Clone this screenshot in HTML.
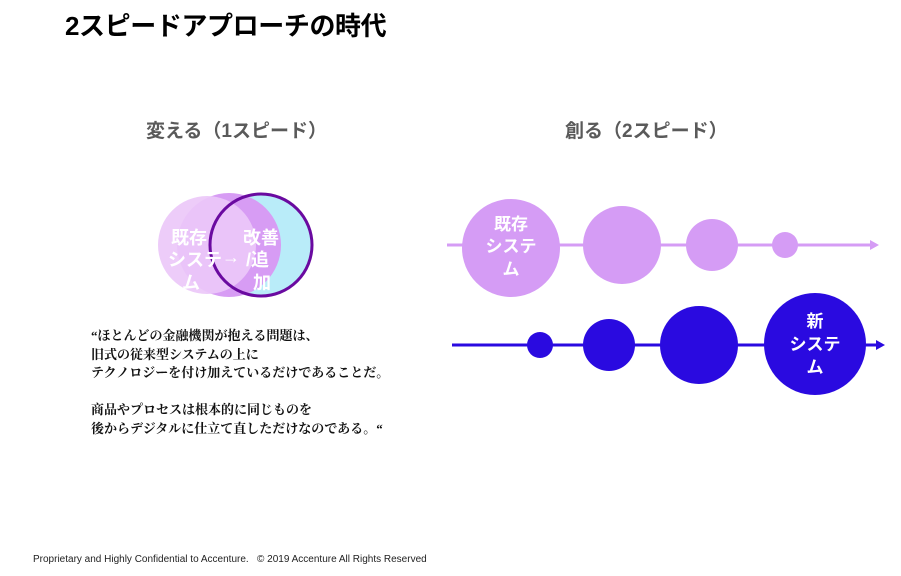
<!DOCTYPE html>
<html><head><meta charset="utf-8"><style>
body{margin:0;width:901px;height:576px;background:#fff;position:relative;overflow:hidden;font-family:"Liberation Sans","Noto Sans CJK JP",sans-serif}
.t{position:absolute;white-space:nowrap}
</style></head><body>
<div class="t" style="left:65px;top:6px;font-size:26px;font-weight:bold;color:#000;letter-spacing:-0.4px">2スピードアプローチの時代</div>
<div class="t" style="left:146px;top:116px;font-size:19px;font-weight:bold;color:#5a5a5a">変える（1スピード）</div>
<div class="t" style="left:565px;top:116px;font-size:19px;font-weight:bold;color:#5a5a5a">創る（2スピード）</div>
<svg width="901" height="576" style="position:absolute;left:0;top:0">
<circle cx="261" cy="245" r="52" fill="#b9ecf9"/>
<circle cx="229" cy="245" r="52" fill="#d79cf4"/>
<circle cx="207" cy="245" r="49" fill="#ebc8f8" opacity="0.92"/>
<circle cx="261" cy="245" r="51" fill="none" stroke="#6a0aa0" stroke-width="3"/>
<g font-family="Liberation Sans,Noto Sans CJK JP,sans-serif" font-weight="bold" fill="#fff" font-size="18">
<text x="171" y="244">既存</text><text x="168" y="266">システ</text><text x="182" y="289">ム</text>
<text x="222" y="263">→</text>
<text x="243" y="244">改善</text><text x="246" y="266">/追</text><text x="253" y="289">加</text>
</g>
<line x1="447" y1="245" x2="872" y2="245" stroke="#d59cf5" stroke-width="3"/>
<polygon points="870,240 879,245 870,250" fill="#d59cf5"/>
<circle cx="511" cy="248" r="49" fill="#d59cf5"/>
<circle cx="622" cy="245" r="39" fill="#d59cf5"/>
<circle cx="712" cy="245" r="26" fill="#d59cf5"/>
<circle cx="785" cy="245" r="13" fill="#d59cf5"/>
<line x1="452" y1="345" x2="878" y2="345" stroke="#2a0ae0" stroke-width="3"/>
<polygon points="876,340 885,345 876,350" fill="#2a0ae0"/>
<circle cx="540" cy="345" r="13" fill="#2a0ae0"/>
<circle cx="609" cy="345" r="26" fill="#2a0ae0"/>
<circle cx="699" cy="345" r="39" fill="#2a0ae0"/>
<circle cx="815" cy="344" r="51" fill="#2a0ae0"/>
<g font-family="Liberation Sans,Noto Sans CJK JP,sans-serif" font-weight="bold" fill="#fff" font-size="17" text-anchor="middle">
<text x="511" y="230">既存</text><text x="511" y="252">システ</text><text x="511" y="275">ム</text>
<text x="815" y="327">新</text><text x="815" y="350">システ</text><text x="815" y="373">ム</text>
</g>
</svg>
<div class="t" style="left:91px;top:327px;font-size:13px;line-height:18.5px;font-weight:bold;color:#111;font-family:'Liberation Serif','Noto Serif CJK SC',serif">“ほとんどの金融機関が抱える問題は、<br>旧式の従来型システムの上に<br>テクノロジーを付け加えているだけであることだ。<br><br>商品やプロセスは根本的に同じものを<br>後からデジタルに仕立て直しただけなのである。“</div>
<div class="t" style="left:33px;top:554px;font-size:10px;color:#222">Proprietary and Highly Confidential to Accenture.&nbsp;&nbsp; © 2019 Accenture All Rights Reserved</div>
</body></html>
